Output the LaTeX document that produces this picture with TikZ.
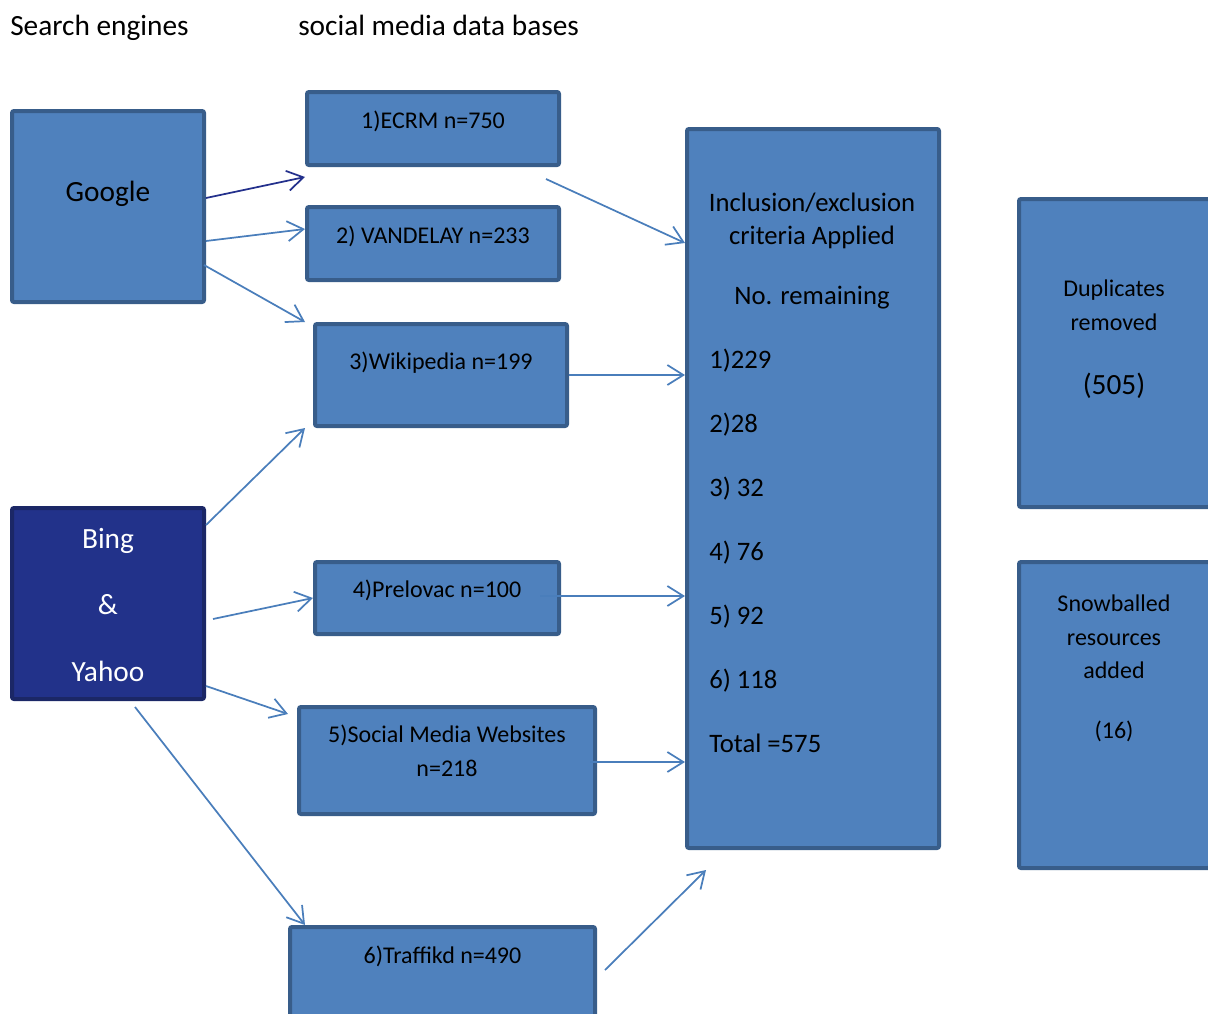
\documentclass[tikz,border=0pt]{standalone}
\usepackage{fontspec}
\setmainfont{Carlito}
\usetikzlibrary{calc,arrows.meta}
\definecolor{boxfill}{HTML}{4F81BD}
\definecolor{boxline}{HTML}{385D8A}
\definecolor{navyfill}{HTML}{22328A}
\definecolor{navyline}{HTML}{1B2766}
\definecolor{arrowblue}{HTML}{4A7EBB}
\definecolor{arrownavy}{HTML}{23308C}
\tikzset{
  bx/.style={draw=boxline, fill=boxfill, line width=3pt, rounded corners=1.5pt, inner sep=0pt},
  navybx/.style={draw=navyline, fill=navyfill, line width=3pt, rounded corners=1.5pt, inner sep=0pt},
  txt/.style={inner sep=0pt, text height=0.7em, text depth=0.2em, yshift=-3.75pt},
  boxtxt/.style={font=\fontsize{18}{22}\selectfont},
  bigtxt/.style={font=\fontsize{22}{26}\selectfont},
  crittxt/.style={font=\fontsize{20}{24}\selectfont},
  sidetxt/.style={font=\fontsize{18}{22}\selectfont},
  conn/.style={draw=arrowblue, line width=1.3pt, -{Straight Barb[length=12pt,width=15pt,line width=1.3pt]}},
  connnavy/.style={conn, draw=arrownavy},
}
\begin{document}
\begin{tikzpicture}[x=0.75pt,y=-0.75pt]
\useasboundingbox (0,0) rectangle (1208,1014);
\clip (0,0) rectangle (1208,1014);
% headers
\node[txt, bigtxt, anchor=west] (h1) at (10,27) {Search engines};
\node[txt, bigtxt, anchor=west] (h2) at (298,27) {social media data bases};
% boxes
\node[bx, minimum width=144pt, minimum height=143.25pt] (google) at (108,206.5) {};
\node[navybx, minimum width=144pt, minimum height=143.25pt] (bing) at (108,603.5) {};
\node[bx, minimum width=189pt, minimum height=54.75pt] (b1) at (433,128.5) {};
\node[bx, minimum width=189pt, minimum height=54.75pt] (b2) at (433,243.5) {};
\node[bx, minimum width=189pt, minimum height=76.5pt] (b3) at (441,375) {};
\node[bx, minimum width=183pt, minimum height=54pt] (b4) at (437,598) {};
\node[bx, minimum width=222pt, minimum height=80.25pt] (b5) at (447,760.5) {};
\node[bx, minimum width=228.75pt, minimum height=83.25pt] (b6) at (442.5,982.5) {};
\node[bx, minimum width=189pt, minimum height=539.25pt] (big) at (813,488.5) {};
\node[bx, minimum width=143.25pt, minimum height=231pt] (dup) at (1114.5,353) {};
\node[bx, minimum width=143.25pt, minimum height=229.5pt] (snow) at (1114.5,715) {};
% box texts
\begin{scope}[every node/.append style={txt}]
\node[bigtxt] (tg) at (108,193) {Google};
\node[bigtxt, text=white] (tb1) at (108,540) {Bing};
\node[bigtxt, text=white] (tb2) at (108,606) {\&};
\node[bigtxt, text=white] (tb3) at (108,673) {Yahoo};
\node[boxtxt] (t1) at (433,120) {1)ECRM n=750};
\node[boxtxt] (t2) at (433,235) {2) VANDELAY n=233};
\node[boxtxt] (t3) at (441,361) {3)Wikipedia n=199};
\node[boxtxt] (t4) at (437,589) {4)Prelovac n=100};
\node[boxtxt] (t5a) at (447,734) {5)Social Media Websites};
\node[boxtxt] (t5b) at (447,768) {n=218};
\node[boxtxt] (t6) at (442.5,955) {6)Traffikd n=490};
\node[crittxt] (c1) at (812,203) {Inclusion/exclusion};
\node[crittxt] (c2) at (812,236) {criteria Applied};
\node[crittxt] (c3) at (812,296) {No. remaining};
\node[crittxt, anchor=west] (r1) at (709,360) {1)229};
\node[crittxt, anchor=west] (r2) at (709,424) {2)28};
\node[crittxt, anchor=west] (r3) at (709,488) {3) 32};
\node[crittxt, anchor=west] (r4) at (709,552) {4) 76};
\node[crittxt, anchor=west] (r5) at (709,616) {5) 92};
\node[crittxt, anchor=west] (r6) at (709,680) {6) 118};
\node[crittxt, anchor=west] (r7) at (709,744) {Total =575};
\node[sidetxt] (d1) at (1114,288) {Duplicates};
\node[sidetxt] (d2) at (1114,322) {removed};
\node[bigtxt] (d3) at (1114,386) {(505)};
\node[sidetxt] (s1) at (1114,603) {Snowballed};
\node[sidetxt] (s2) at (1114,637) {resources};
\node[sidetxt] (s3) at (1114,670) {added};
\node[sidetxt] (s4) at (1114,730) {(16)};
\end{scope}
% connectors
\draw[connnavy] ($(google.north east)+(0,89)$) -- ($(b1.south west)+(0,10)$);
\draw[conn] ($(google.north east)+(0,132)$) -- ($(b2.west)+(0,-14.5)$);
\draw[conn] ($(google.south east)+(-2,-39)$) -- ($(b3.north west)+(-8,0)$);
\draw[conn] ($(bing.north east)+(0,19)$) -- ($(b3.south west)+(-8,0)$);
\draw[conn] ($(bing.east)+(7,15.5)$) -- (b4.west);
\draw[conn] ($(bing.south east)+(0,-15)$) -- ($(b5.north west)+(-9,9)$);
\draw[conn] ($(bing.south west)+(125,6)$) -- ($(b6.north west)+(17,0)$);
\draw[conn] ($(b1.south east)+(-15,12)$) -- ($(big.north west)+(0,116)$);
\draw[conn] (b3.east) -- (b3.east -| big.west);
\draw[conn] ($(b4.east)+(-21,-2)$) coordinate (p4) -- (p4 -| big.west);
\draw[conn] ($(b5.east)+(-7,1.5)$) coordinate (p5) -- (p5 -| big.west);
\draw[conn] ($(b6.north east)+(8,45)$) -- ($(big.south west)+(21,20)$);
\end{tikzpicture}
\end{document}
